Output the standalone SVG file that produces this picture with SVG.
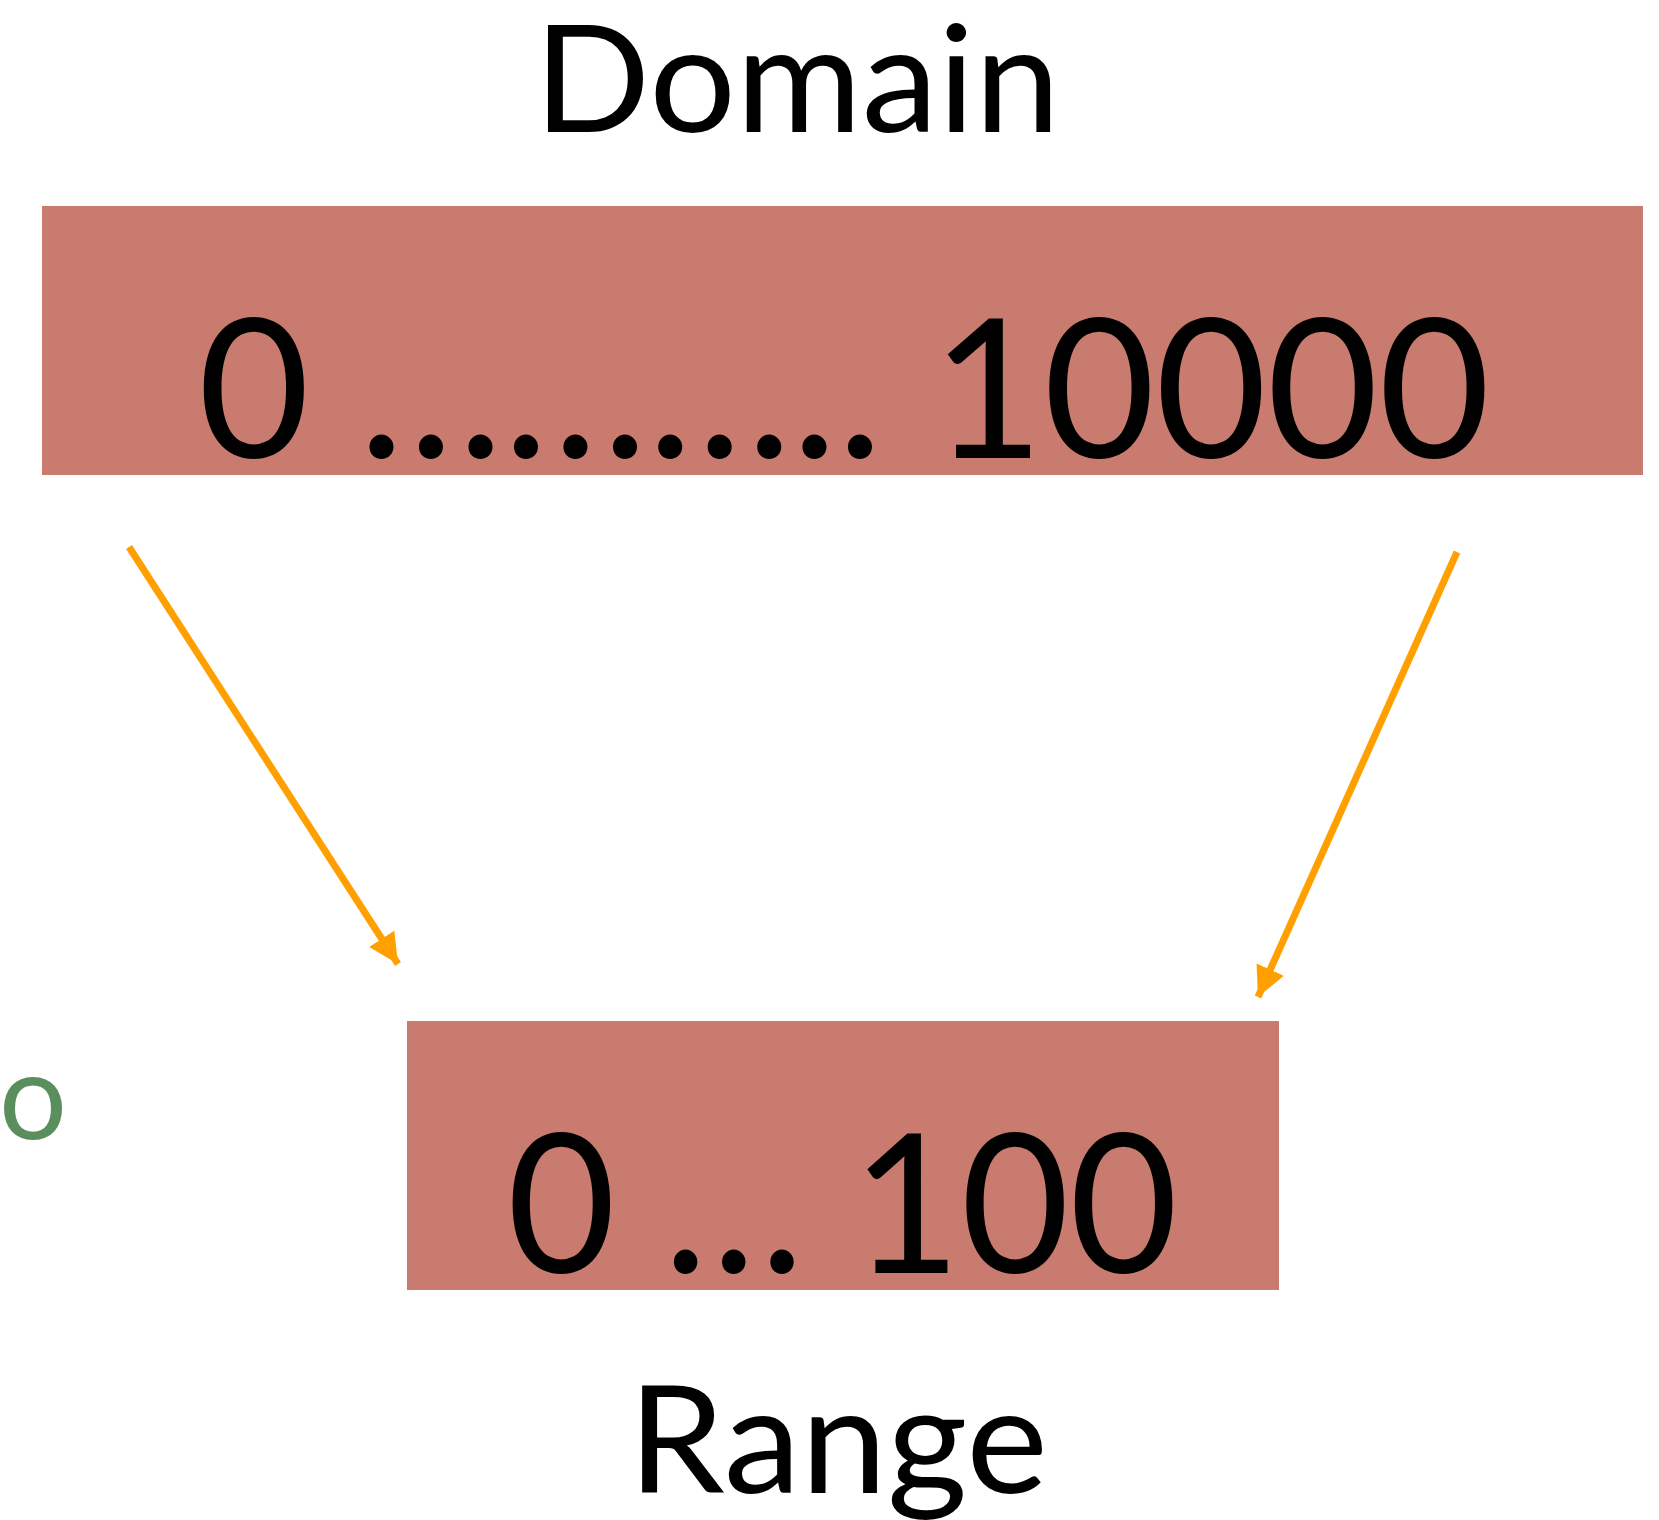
<svg xmlns="http://www.w3.org/2000/svg" width="1659" height="1520" viewBox="0 0 1659 1520">
<defs>
<style>
.lbl{font-family:Lato,"Open Sans","Liberation Sans",sans-serif;fill:#000;}
.box{fill:#C87B6E;}
.arrow{stroke:#FFA000;stroke-width:7;fill:none;}
</style>
<marker id="ah" markerUnits="userSpaceOnUse" markerWidth="30" markerHeight="30" viewBox="0 0 24 24" refX="24" refY="12" orient="auto">
<path d="M0,0 L24,12 L0,24 Z" fill="#FFA000"/>
</marker>
</defs>
<rect width="1659" height="1520" fill="#fff"/>
<g id="domain-label">
<text class="lbl" x="534" y="132" font-size="150" textLength="526" lengthAdjust="spacingAndGlyphs">Domain</text>
</g>
<g id="domain">
<rect class="box" x="42" y="206" width="1601" height="269"/>
<text class="lbl" x="198" y="458" font-size="194" textLength="1292" lengthAdjust="spacingAndGlyphs">0 ……….. 10000</text>
</g>
<g id="range">
<rect class="box" x="407" y="1021" width="872" height="269"/>
<text class="lbl" x="507" y="1273" font-size="194" textLength="671" lengthAdjust="spacingAndGlyphs">0 … 100</text>
</g>
<g id="range-label">
<text class="lbl" x="628" y="1493" font-size="150" textLength="420" lengthAdjust="spacingAndGlyphs">Range</text>
</g>
<g id="side-text">
<text x="-1" y="1139" font-family="Lato,'Open Sans','Liberation Sans',sans-serif" font-size="120" fill="#5A8E5C">o</text>
</g>
<g id="connectors">
<line class="arrow" x1="129" y1="547" x2="398" y2="964" marker-end="url(#ah)"/>
<line class="arrow" x1="1457" y1="552" x2="1258" y2="997" marker-end="url(#ah)"/>
</g>
</svg>
